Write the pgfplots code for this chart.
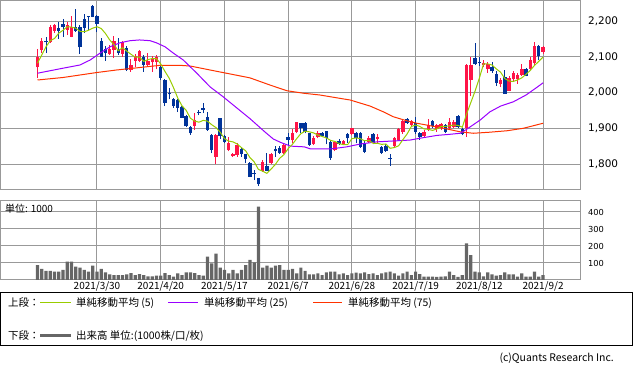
\documentclass[border=0pt]{standalone}
\usepackage{pgfplots}
\pgfplotsset{compat=1.18}
\usepackage{pgfplotstable}
\usepackage{fontspec}
\setmainfont{DejaVu Sans}
\newfontfamily\jp{Noto Sans CJK JP}
\definecolor{cred}{HTML}{FF1447}
\definecolor{cblue}{HTML}{003399}
\definecolor{mafc}{HTML}{99CC00}
\definecolor{matc}{HTML}{9900FF}
\definecolor{masc}{HTML}{FF3300}
\definecolor{gridc}{HTML}{999999}
\definecolor{volc}{HTML}{666666}

\pgfplotstableread{
i o h l c
0 2070 2122 2040 2098
1 2119 2153 2110 2145
3 2140 2189 2138 2184
4 2173 2192 2166 2189
7 2175 2198 2161 2189
8 2156 2215 2154 2182
17 2108 2134 2105 2121
18 2119 2158 2096 2145
20 2108 2145 2100 2140
22 2063 2093 2058 2077
23 2089 2108 2072 2102
24 2089 2120 2085 2115
26 2077 2110 2075 2089
27 2084 2102 2058 2093
28 2086 2104 2065 2100
37 1906 1942 1895 1923
42 1821 1883 1800 1881
45 1839 1875 1835 1860
46 1822 1830 1820 1828
47 1825 1860 1820 1853
53 1780 1810 1778 1806
55 1802 1830 1800 1828
58 1830 1856 1828 1853
60 1867 1897 1858 1888
61 1890 1918 1886 1917
65 1856 1877 1853 1874
66 1876 1892 1872 1888
70 1839 1864 1835 1861
72 1856 1867 1852 1864
74 1884 1902 1880 1900
78 1862 1877 1858 1874
80 1869 1883 1858 1876
84 1849 1876 1846 1872
85 1867 1900 1863 1897
86 1890 1922 1885 1921
88 1909 1923 1905 1921
91 1878 1895 1875 1890
92 1895 1925 1892 1910
94 1898 1912 1890 1908
95 1900 1915 1895 1912
97 1900 1930 1895 1918
98 1904 1923 1900 1918
101 1900 2080 1876 2077
102 2035 2100 1990 2077
105 2077 2090 2070 2083
106 2065 2085 2055 2079
109 2023 2040 2015 2035
111 2005 2046 2003 2040
112 2037 2061 2030 2055
113 2038 2054 2025 2049
114 2049 2080 2045 2066
116 2066 2098 2063 2091
117 2083 2142 2077 2129
119 2114 2130 2107 2127
}\upc

\pgfplotstableread{
i o h l c
2 2143 2155 2110 2140
5 2180 2198 2149 2173
6 2192 2207 2156 2184
9 2184 2234 2170 2173
10 2184 2190 2108 2126
11 2206 2220 2167 2180
12 2213 2215 2175 2211
13 2243 2245 2210 2212
14 2215 2217 2168 2192
15 2145 2152 2098 2100
16 2121 2131 2089 2110
19 2121 2152 2105 2111
21 2124 2130 2060 2063
25 2100 2104 2058 2077
29 2072 2076 2035 2040
30 2035 2037 1962 1972
31 2000 2012 1981 1995
32 1983 1985 1958 1962
33 1979 1981 1945 1958
34 1960 1962 1928 1930
35 1934 1936 1903 1905
36 1903 1905 1882 1886
38 1946 1952 1936 1942
39 1956 1970 1942 1952
40 1931 1945 1893 1895
41 1881 1883 1830 1839
43 1928 1930 1870 1877
44 1877 1882 1858 1862
48 1841 1848 1820 1828
49 1827 1828 1802 1814
50 1804 1806 1763 1765
51 1776 1783 1755 1772
52 1760 1762 1738 1744
54 1794 1832 1780 1781
56 1841 1850 1820 1835
57 1846 1850 1828 1832
59 1876 1886 1853 1867
62 1914 1916 1886 1900
63 1914 1918 1886 1890
64 1886 1888 1850 1853
67 1888 1890 1875 1878
68 1891 1892 1855 1872
69 1862 1864 1812 1816
71 1865 1870 1852 1857
73 1884 1888 1860 1872
75 1888 1890 1858 1872
76 1888 1890 1845 1848
77 1858 1865 1830 1834
79 1884 1887 1855 1860
81 1847 1850 1828 1832
82 1849 1855 1834 1837
83 1817 1828 1795 1815
87 1925 1930 1912 1916
89 1914 1932 1885 1890
90 1888 1890 1868 1875
93 1920 1924 1900 1905
96 1909 1912 1886 1890
99 1934 1936 1902 1904
100 1897 1900 1880 1884
103 2097 2139 2077 2080
104 2085 2098 2075 2082
107 2072 2085 2055 2059
108 2051 2060 2018 2027
110 2044 2062 1997 1997
115 2066 2068 2045 2047
118 2129 2133 2090 2102
}\downc

\pgfplotstableread{
i m
0 2082
1 2105
2 2128
3 2145
4 2151
5 2166
6 2174
7 2184
8 2183
9 2180
10 2171
11 2170
12 2174
13 2180
14 2184
15 2179
16 2165
17 2147
18 2134
19 2117
20 2125
21 2116
22 2107
23 2099
24 2099
25 2087
26 2092
27 2095
28 2095
29 2080
30 2059
31 2040
32 2014
33 1985
34 1963
35 1950
36 1928
37 1920
38 1917
39 1922
40 1920
41 1910
42 1902
43 1889
44 1871
45 1864
46 1862
47 1856
48 1846
49 1837
50 1818
51 1806
52 1785
53 1780
54 1774
55 1786
56 1799
57 1816
58 1826
59 1843
60 1855
61 1871
62 1885
63 1892
64 1890
65 1887
66 1881
67 1877
68 1873
69 1866
70 1863
71 1857
72 1854
73 1854
74 1871
75 1873
76 1871
77 1865
78 1866
79 1858
80 1858
81 1855
82 1856
83 1844
84 1846
85 1851
86 1868
87 1884
88 1905
89 1909
90 1905
91 1898
92 1897
93 1894
94 1898
95 1905
96 1905
97 1907
98 1909
99 1908
100 1903
101 1940
102 1972
103 2004
104 2040
105 2080
106 2080
107 2077
108 2066
109 2057
110 2039
111 2032
112 2031
113 2035
114 2041
115 2051
116 2062
117 2076
118 2087
119 2099
}\mafive

\pgfplotstableread{
i v
0 88
1 65
2 53
3 53
4 49
5 49
6 59
7 108
8 108
9 78
10 73
11 59
12 49
13 84
14 49
15 65
16 45
17 33
18 29
19 29
20 29
21 33
22 41
23 29
24 35
25 29
26 22
27 22
28 25
29 25
30 41
31 29
32 20
33 39
34 29
35 45
36 45
37 41
38 29
39 25
40 137
41 98
42 155
43 73
44 59
45 39
46 59
47 39
48 59
49 88
50 118
51 104
52 431
53 73
54 84
55 73
56 84
57 88
58 59
59 59
60 65
61 39
62 73
63 53
64 33
65 33
66 39
67 29
68 45
69 49
70 49
71 33
72 39
73 29
74 39
75 43
76 39
77 45
78 35
79 39
80 29
81 39
82 45
83 49
84 39
85 25
86 39
87 49
88 29
89 49
90 35
91 20
92 20
93 20
94 18
95 20
96 22
97 49
98 29
99 18
100 29
101 216
102 147
103 49
104 45
105 22
106 45
107 33
108 25
109 29
110 45
111 33
112 33
113 20
114 39
115 20
116 20
117 49
118 20
119 29
}\vol

\begin{document}
\begin{tikzpicture}
\path[use as bounding box] (0bp,0bp) rectangle (633bp,371bp);

% upper panel
\begin{axis}[
  at={(0bp,181bp)}, anchor=south west,
  width=580bp, height=189bp, scale only axis,
  xmin=-8.83, xmax=127.7, ymin=1727.3, ymax=2256,
  axis line style={draw=gridc, line width=1bp},
  xtick={14,29,44,59,74,89,104,119}, xticklabels={},
  ytick={1800,1900,2000,2100,2200},
  yticklabels={{1,800},{1,900},{2,000},{2,100},{2,200}},
  yticklabel pos=right,
  yticklabel style={font=\fontsize{10.5}{12}\selectfont, anchor=west, inner sep=0pt, xshift=8bp},
  grid=major, major grid style={draw=gridc, line width=1bp},
  major tick length=0pt, tick style={draw=none},
  clip=true,
]
% wicks
\addplot[draw=none, mark=none, forget plot,
  error bars/.cd, y dir=plus, y explicit, error mark=none,
  error bar style={draw=cred, line width=1bp}]
  table[x=i, y=l, y error expr=\thisrow{h}-\thisrow{l}] {\upc};
\addplot[draw=none, mark=none, forget plot,
  error bars/.cd, y dir=plus, y explicit, error mark=none,
  error bar style={draw=cblue, line width=1bp}]
  table[x=i, y=l, y error expr=\thisrow{h}-\thisrow{l}] {\downc};
% bodies
\addplot[draw=none, mark=none, forget plot,
  error bars/.cd, y dir=plus, y explicit, error mark=none,
  error bar style={draw=cred, line width=3.4bp, line cap=butt}]
  table[x=i, y=o, y error expr=\thisrow{c}-\thisrow{o}] {\upc};
\addplot[draw=none, mark=none, forget plot,
  error bars/.cd, y dir=plus, y explicit, error mark=none,
  error bar style={draw=cblue, line width=3.4bp, line cap=butt}]
  table[x=i, y=c, y error expr=\thisrow{o}-\thisrow{c}] {\downc};
% moving averages
\addplot[color=masc, line width=1bp, mark=none] coordinates {
(0,2035) (6,2042) (14,2056) (18.6,2063) (21.8,2067) (28.8,2076) (33.6,2076) (36,2074)
(40.6,2063) (45.3,2052) (50,2041) (54.7,2021) (58.7,2005) (62.6,1998) (66.5,1993)
(70,1986) (73.6,1979) (78.3,1962) (81.4,1946) (83.8,1932) (86.9,1921) (89.3,1914)
(91.6,1909) (95.6,1900) (99.5,1890) (102.6,1886) (106.5,1889) (110.5,1893) (114.4,1900) (119,1914)};
\addplot[color=matc, line width=1bp, mark=none] coordinates {
(0,2054) (6,2068) (10,2077) (12.4,2091) (14.7,2110) (17.1,2128) (19.4,2139) (21.8,2145)
(24,2147) (26.5,2145) (28,2139) (30,2128) (32,2110) (34.3,2091) (37.5,2054) (40.6,2016)
(43.7,1988) (46.9,1957) (50,1927) (53.5,1890) (55.5,1870) (57.3,1860) (59.6,1850)
(62.8,1848) (64.3,1842) (68.9,1842) (72.8,1848) (76,1856) (79.9,1862) (84.6,1865)
(87.7,1867) (90,1872) (94,1880) (97,1883) (99.5,1886) (101,1897) (104.2,1923)
(106.5,1946) (109,1962) (112,1974) (115,1993) (117.5,2014) (119,2027)};
\addplot[color=mafc, line width=1bp, mark=none] table[x=i, y=m] {\mafive};
\end{axis}

% lower panel
\begin{axis}[
  at={(0bp,91bp)}, anchor=south west,
  width=580bp, height=79bp, scale only axis,
  xmin=-8.83, xmax=127.7, ymin=0, ymax=464.7,
  axis line style={draw=gridc, line width=1bp},
  xtick={14,29,44,59,74,89,104,119},
  xticklabels={2021/3/30,2021/4/20,2021/5/17,2021/6/7,2021/6/28,2021/7/19,2021/8/12,2021/9/2},
  xticklabel style={font=\jp\fontsize{10}{12}\selectfont, anchor=north, inner sep=0pt, yshift=-1bp},
  ytick={100,200,300,400},
  yticklabels={100,200,300,400},
  yticklabel pos=right,
  yticklabel style={font=\fontsize{8.3}{10}\selectfont, anchor=west, inner sep=0pt, xshift=8bp},
  grid=major, major grid style={draw=gridc, line width=1bp},
  major tick length=0pt, tick style={draw=none},
  clip=true,
]
\addplot[ybar, bar width=3.2bp, fill=volc, draw=none] table[x=i, y=v] {\vol};
\end{axis}

\node[anchor=west, inner sep=0pt, font=\jp\fontsize{10}{12}\selectfont] at (5bp,162bp) {単位: 1000};

% legend box
\draw[black, line width=1bp] (0.5bp,78bp) rectangle (632.5bp,25bp);
\node[anchor=west, inner sep=0pt, font=\jp\fontsize{10.5}{12}\selectfont] at (8bp,68bp) {上段：};
\draw[mafc, line width=1bp] (40bp,68bp) -- (71bp,68bp);
\node[anchor=west, inner sep=0pt, font=\jp\fontsize{10.5}{12}\selectfont] at (76bp,68bp) {単純移動平均 (5)};
\draw[matc, line width=1bp] (168bp,68bp) -- (198bp,68bp);
\node[anchor=west, inner sep=0pt, font=\jp\fontsize{10.5}{12}\selectfont] at (204bp,68bp) {単純移動平均 (25)};
\draw[masc, line width=1bp] (313bp,68bp) -- (342bp,68bp);
\node[anchor=west, inner sep=0pt, font=\jp\fontsize{10.5}{12}\selectfont] at (348bp,68bp) {単純移動平均 (75)};
\node[anchor=west, inner sep=0pt, font=\jp\fontsize{10.5}{12}\selectfont] at (8bp,35bp) {下段：};
\draw[volc, line width=3bp] (40bp,35bp) -- (71bp,35bp);
\node[anchor=west, inner sep=0pt, font=\jp\fontsize{10.5}{12}\selectfont] at (76bp,35bp) {出来高 単位:(1000株/口/枚)};
\node[anchor=east, inner sep=0pt, font=\jp\fontsize{10.5}{12}\selectfont] at (614bp,13bp) {(c)Quants Research Inc.};
\end{tikzpicture}
\end{document}
